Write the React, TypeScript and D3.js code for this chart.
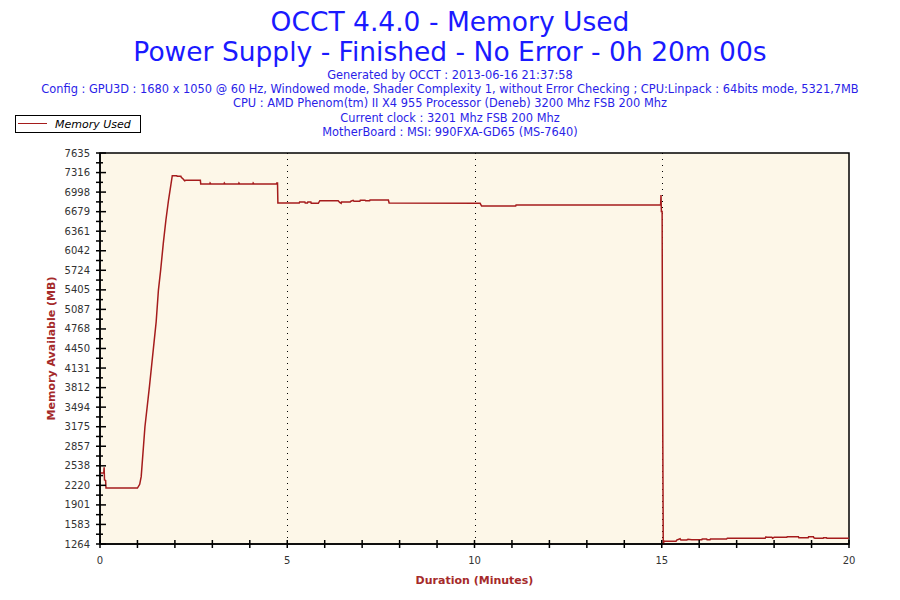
import React, { useEffect, useRef } from 'react';
import * as d3 from 'd3';

// Memory used samples (minutes, MB)
const times = [
  0, 0.1, 0.11, 0.12, 0.15, 0.16, 1.0, 1.06, 1.1, 1.16, 1.2, 1.26, 1.32, 1.38, 1.44, 1.5, 1.56, 1.62, 1.69, 1.76,
  1.83, 1.93, 2.05, 2.06, 2.16, 2.17, 2.22, 2.26, 2.29, 2.68, 2.69, 2.93, 2.94, 2.96, 3.31, 3.32, 3.34, 3.7, 3.71,
  3.73, 4.08, 4.09, 4.11, 4.71, 4.72, 4.74, 4.75, 5.32, 5.33, 5.47, 5.48, 5.54, 5.55, 5.63, 5.64, 5.83, 5.87, 6.36,
  6.4, 6.44, 6.45, 6.68, 6.7, 6.76, 6.78, 6.94, 6.95, 7.08, 7.09, 7.2, 7.21, 7.7, 7.72, 10.15, 10.19, 11.1, 11.11,
  14.97, 14.98, 14.99, 15.01, 15.02, 15.04, 15.06, 15.07, 15.38, 15.4, 15.49, 15.51, 15.67, 15.7, 15.8, 16.07,
  16.08, 16.2, 16.21, 16.29, 16.3, 16.73, 16.75, 17.76, 17.78, 17.8, 17.94, 17.96, 18.0, 18.34, 18.35, 18.65,
  18.66, 18.91, 18.92, 19.05, 19.06, 19.09, 19.31, 19.32, 19.4, 19.41, 20.0,
];
const memoryUsed = [
  2420, 2420, 2515, 2307, 2300, 2175, 2175, 2237, 2361, 2849, 3175, 3501, 3827, 4181, 4534, 4886, 5402, 5728, 6163, 6543,
  6869, 7265, 7265, 7255, 7255, 7240, 7211, 7183, 7190, 7190, 7130, 7130, 7146, 7130, 7130, 7146, 7130, 7130, 7146,
  7130, 7130, 7146, 7130, 7130, 7146, 7146, 6820, 6820, 6836, 6836, 6820, 6820, 6836, 6836, 6815, 6815, 6858, 6858,
  6830, 6815, 6836, 6836, 6850, 6864, 6850, 6850, 6864, 6864, 6858, 6858, 6869, 6869, 6820, 6815, 6771, 6771, 6787,
  6787, 6950, 6680, 6680, 4213, 1250, 1313, 1308, 1308, 1329, 1350, 1329, 1329, 1340, 1334, 1334,
  1345, 1345, 1334, 1334, 1345, 1345, 1357, 1357, 1378, 1373, 1373, 1357, 1373, 1373, 1383, 1383,
  1367, 1367, 1383, 1383, 1367, 1357, 1357, 1367, 1367, 1357, 1357,
];

const yTickLabels = [
  1264, 1583, 1901, 2220, 2538, 2857, 3175, 3494, 3812, 4131, 4450, 4768, 5087, 5405, 5724, 6042, 6361, 6679,
  6998, 7316, 7635,
];
const xTicks = d3.range(0, 21);
const xLabelTicks = [0, 5, 10, 15, 20];
const xGridTicks = [5, 10, 15];

const titleLines = ['OCCT 4.4.0 - Memory Used', 'Power Supply - Finished - No Error - 0h 20m 00s'];
const infoLines = [
  'Generated by OCCT : 2013-06-16 21:37:58',
  'Config : GPU3D : 1680 x 1050 @ 60 Hz, Windowed mode, Shader Complexity 1, without Error Checking ; CPU:Linpack : 64bits mode, 5321,7MB',
  'CPU : AMD Phenom(tm) II X4 955 Processor (Deneb) 3200 Mhz FSB 200 Mhz',
  'Current clock : 3201 Mhz FSB 200 Mhz',
  'MotherBoard : MSI: 990FXA-GD65 (MS-7640)',
];

const FONT = "'DejaVu Sans', Verdana, sans-serif";
const LINE_COLOR = '#a51c1c';

const App: React.FC = () => {
  const svgRef = useRef<SVGSVGElement>(null);

  useEffect(() => {
    if (!svgRef.current) return;
    const width = 900;
    const height = 600;
    const margin = { top: 153, right: 51, bottom: 56, left: 100 };

    const svg = d3.select(svgRef.current);
    svg.selectAll('*').remove();
    svg.attr('width', width).attr('height', height);

    svg.append('rect').attr('width', width).attr('height', height).attr('fill', '#ffffff');

    // Titles
    titleLines.forEach((t, i) => {
      svg.append('text')
        .attr('x', width / 2)
        .attr('y', 31 + i * 30)
        .attr('text-anchor', 'middle')
        .style('font-family', FONT)
        .style('font-size', '26.5px')
        .style('fill', '#1a1aff')
        .text(t);
    });
    infoLines.forEach((t, i) => {
      svg.append('text')
        .attr('x', width / 2)
        .attr('y', 79 + i * 14.2)
        .attr('text-anchor', 'middle')
        .style('font-family', FONT)
        .style('font-size', '11.4px')
        .style('fill', '#2a1ee8')
        .text(t);
    });

    const x = d3.scaleLinear().domain([0, 20]).range([margin.left, width - margin.right]);
    const y = d3.scaleLinear()
      .domain([yTickLabels[0], yTickLabels[yTickLabels.length - 1]])
      .range([height - margin.bottom, margin.top]);

    // Plot background
    svg.append('rect')
      .attr('x', x(0))
      .attr('y', y.range()[1])
      .attr('width', x(20) - x(0))
      .attr('height', y.range()[0] - y.range()[1])
      .attr('fill', '#fdf7e8')
      .attr('stroke', '#000')
      .attr('stroke-width', 1.5);

    // Dotted vertical grid
    svg.append('g')
      .selectAll('line')
      .data(xGridTicks)
      .enter()
      .append('line')
      .attr('x1', d => Math.round(x(d)) + 0.5)
      .attr('x2', d => Math.round(x(d)) + 0.5)
      .attr('y1', y.range()[1])
      .attr('y2', y.range()[0])
      .attr('stroke', '#000')
      .attr('stroke-width', 1)
      .attr('stroke-dasharray', '1,5');

    // Line
    const pts = times.map((t, i) => [t, memoryUsed[i]] as [number, number]);
    const line = d3.line<[number, number]>()
      .x(d => x(d[0]))
      .y(d => y(d[1]));
    svg.append('path')
      .attr('d', line(pts) || '')
      .attr('fill', 'none')
      .attr('stroke', LINE_COLOR)
      .attr('stroke-width', 1.5);

    // Y axis
    const yAxisG = svg.append('g');
    yAxisG.append('line')
      .attr('x1', x(0)).attr('x2', x(0))
      .attr('y1', y.range()[1]).attr('y2', y.range()[0])
      .attr('stroke', '#000').attr('stroke-width', 1.5);
    yAxisG.selectAll('.major')
      .data(yTickLabels)
      .enter()
      .append('line')
      .attr('x1', x(0) - 4).attr('x2', x(0) + 6)
      .attr('y1', d => y(d)).attr('y2', d => y(d))
      .attr('stroke', '#000').attr('stroke-width', 1.5);
    const minor = yTickLabels.slice(1).map((v, i) => (v + yTickLabels[i]) / 2);
    yAxisG.selectAll('.minor')
      .data(minor)
      .enter()
      .append('line')
      .attr('x1', x(0) - 4).attr('x2', x(0) + 3)
      .attr('y1', d => y(d)).attr('y2', d => y(d))
      .attr('stroke', '#000').attr('stroke-width', 1.5);
    yAxisG.selectAll('text')
      .data(yTickLabels)
      .enter()
      .append('text')
      .attr('x', x(0) - 10)
      .attr('y', d => y(d))
      .attr('dy', '0.35em')
      .attr('text-anchor', 'end')
      .style('font-family', FONT)
      .style('font-size', '10px')
      .style('fill', '#333')
      .text(d => String(d));

    // X axis
    const xAxisG = svg.append('g');
    xAxisG.append('line')
      .attr('x1', x(0)).attr('x2', x(20))
      .attr('y1', y.range()[0]).attr('y2', y.range()[0])
      .attr('stroke', '#000').attr('stroke-width', 1.5);
    xAxisG.selectAll('.tick')
      .data(xTicks)
      .enter()
      .append('line')
      .attr('x1', d => x(d)).attr('x2', d => x(d))
      .attr('y1', y.range()[0] - 4).attr('y2', y.range()[0] + 4)
      .attr('stroke', '#000').attr('stroke-width', 1.5);
    xAxisG.selectAll('text')
      .data(xLabelTicks)
      .enter()
      .append('text')
      .attr('x', d => x(d))
      .attr('y', y.range()[0] + 20)
      .attr('text-anchor', 'middle')
      .style('font-family', FONT)
      .style('font-size', '10px')
      .style('fill', '#333')
      .text(d => String(d));

    // Axis titles
    svg.append('text')
      .attr('transform', `translate(55,${(y.range()[0] + y.range()[1]) / 2}) rotate(-90)`)
      .attr('text-anchor', 'middle')
      .style('font-family', FONT)
      .style('font-size', '11px')
      .style('font-weight', 'bold')
      .style('fill', '#a52a2a')
      .text('Memory Available (MB)');
    svg.append('text')
      .attr('x', (x(0) + x(20)) / 2)
      .attr('y', 584)
      .attr('text-anchor', 'middle')
      .style('font-family', FONT)
      .style('font-size', '11px')
      .style('font-weight', 'bold')
      .style('fill', '#a52a2a')
      .text('Duration (Minutes)');

    // Legend
    const legend = svg.append('g');
    legend.append('rect')
      .attr('x', 15.5).attr('y', 115.5)
      .attr('width', 125).attr('height', 17)
      .attr('fill', '#fff').attr('stroke', '#000').attr('stroke-width', 1);
    legend.append('line')
      .attr('x1', 18).attr('x2', 47)
      .attr('y1', 123.5).attr('y2', 123.5)
      .attr('stroke', LINE_COLOR).attr('stroke-width', 1);
    legend.append('text')
      .attr('x', 55).attr('y', 127.5)
      .style('font-family', FONT)
      .style('font-size', '11px')
      .style('font-style', 'italic')
      .style('fill', '#000')
      .text('Memory Used');
  }, []);

  return (
    <div style={{ position: 'absolute', left: 0, top: 0 }}>
      <svg ref={svgRef} style={{ display: 'block' }} />
    </div>
  );
};

export default App;
